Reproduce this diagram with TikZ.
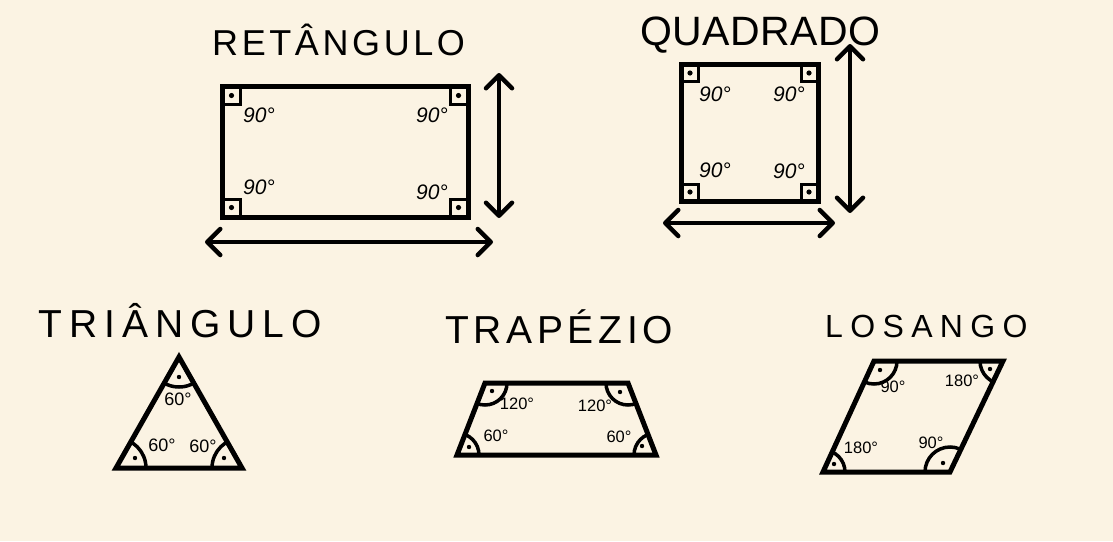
\documentclass[tikz,border=0pt]{standalone}
\usepackage{fontspec}
\setmainfont{Liberation Sans}
\usetikzlibrary{arrows.meta,calc}
\definecolor{bg}{RGB}{251,243,227}
\begin{document}
\begin{tikzpicture}[x=1pt,y=-1pt,
  outline/.style={line width=5pt,line join=miter},
  arcline/.style={line width=3.5pt},
  cbox/.style={line width=3pt},
  dim/.style={line width=4.5pt,line cap=round,{Straight Barb[length=13pt,width=26pt,round]}-{Straight Barb[length=13pt,width=26pt,round]}},
  title/.style={anchor=base west,inner sep=0pt},
  deg/.style={inner sep=0pt}]
\fill[bg] (0,0) rectangle (1113,541);
\useasboundingbox (0,0) rectangle (1113,541);

% titles
\node[title,font=\fontsize{36}{36}\selectfont\addfontfeature{LetterSpace=10}] (tr) at (212,55) {RETÂNGULO};
\node[title,font=\fontsize{41}{41}\selectfont\addfontfeature{LetterSpace=1}] (tq) at (640,45) {QUADRADO};
\node[title,font=\fontsize{39}{39}\selectfont\addfontfeature{LetterSpace=18}] (tt) at (38,337) {TRIÂNGULO};
\node[title,font=\fontsize{39}{39}\selectfont\addfontfeature{LetterSpace=12}] (tp) at (445,343) {TRAPÉZIO};
\node[title,font=\fontsize{32}{32}\selectfont\addfontfeature{LetterSpace=23}] (tl) at (825,337) {LOSANGO};

% rectangle
\coordinate (r1) at (222,86); \coordinate (r2) at (468,86);
\coordinate (r3) at (468,217); \coordinate (r4) at (222,217);
\draw[outline] (r1) rectangle (r3);
\foreach \c/\sx/\sy in {r1/1/1, r2/-1/1, r3/-1/-1, r4/1/-1} {
  \draw[cbox] ($(\c)+(0,18*\sy)$) -| ($(\c)+(18*\sx,0)$);
  \fill ($(\c)+(9.5*\sx,9.5*\sy)$) circle (2.6);
}
\begin{scope}[every node/.style={deg,font=\fontsize{21}{21}\selectfont\itshape}]
\node (ra) at (259,115) {90°};
\node (rb) at (432,115) {90°};
\node (rc) at (259,187) {90°};
\node (rd) at (432,192) {90°};
\end{scope}
\coordinate (rv1) at (499,73); \coordinate (rv2) at (499,218);
\draw[dim] (rv1) -- (rv2);
\coordinate (rh1) at (205,242); \coordinate (rh2) at (493,242);
\draw[dim] (rh1) -- (rh2);

% square
\coordinate (q1) at (681,64); \coordinate (q2) at (818,64);
\coordinate (q3) at (818,201); \coordinate (q4) at (681,201);
\draw[outline] (q1) rectangle (q3);
\foreach \c/\sx/\sy in {q1/1/1, q2/-1/1, q3/-1/-1, q4/1/-1} {
  \draw[cbox] ($(\c)+(0,17*\sy)$) -| ($(\c)+(17*\sx,0)$);
  \fill ($(\c)+(9*\sx,9*\sy)$) circle (2.6);
}
\begin{scope}[every node/.style={deg,font=\fontsize{21}{21}\selectfont\itshape}]
\node (qa) at (715,94) {90°};
\node (qb) at (789,94) {90°};
\node (qc) at (715,170) {90°};
\node (qd) at (789,171) {90°};
\end{scope}
\coordinate (qv1) at (850,44); \coordinate (qv2) at (850,213);
\draw[dim] (qv1) -- (qv2);
\coordinate (qh1) at (663,223); \coordinate (qh2) at (835,223);
\draw[dim] (qh1) -- (qh2);

% triangle
\coordinate (t1) at (179,357); \coordinate (t2) at (242,468); \coordinate (t3) at (116,468);
\begin{scope}
\clip (t1)--(t2)--(t3)--cycle;
\foreach \v in {t1,t2,t3} \draw[arcline] (\v) circle (30);
\end{scope}
\draw[outline] (t1)--(t2)--(t3)--cycle;
\foreach \p in {(179,377),(135,458),(224,458)} \fill \p circle (2.2);
\begin{scope}[every node/.style={deg,font=\fontsize{18}{18}\selectfont}]
\node (ta) at (178,399) {60°};
\node (tb) at (162,445) {60°};
\node (tc) at (203,446) {60°};
\end{scope}

% trapezoid
\coordinate (p1) at (485,383); \coordinate (p2) at (628,383);
\coordinate (p3) at (656,455); \coordinate (p4) at (457,455);
\begin{scope}
\clip (p1)--(p2)--(p3)--(p4)--cycle;
\foreach \v in {p1,p2,p3,p4} \draw[arcline] (\v) circle (22);
\end{scope}
\draw[outline] (p1)--(p2)--(p3)--(p4)--cycle;
\foreach \p in {(492,391),(620,392),(469,447),(642,446)} \fill \p circle (2.2);
\begin{scope}[every node/.style={deg,font=\fontsize{16.5}{16.5}\selectfont}]
\node (pa) at (517,404) {120°};
\node (pb) at (595,406) {120°};
\node (pc) at (496,436) {60°};
\node (pd) at (619,437) {60°};
\end{scope}

% rhombus
\coordinate (l1) at (874,361); \coordinate (l2) at (1003,361);
\coordinate (l3) at (950,472); \coordinate (l4) at (823,472);
\begin{scope}
\clip (l1)--(l2)--(l3)--(l4)--cycle;
\draw[arcline] (l1) circle (23);
\draw[arcline] (l2) circle (23);
\draw[arcline] (l3) circle (25);
\draw[arcline] (l4) circle (22);
\end{scope}
\draw[outline] (l1)--(l2)--(l3)--(l4)--cycle;
\foreach \p in {(880,370),(990,369),(834,464),(943,463)} \fill \p circle (2.2);
\begin{scope}[every node/.style={deg,font=\fontsize{16.5}{16.5}\selectfont}]
\node (la) at (893,387) {90°};
\node (lb) at (962,381) {180°};
\node (lc) at (861,448) {180°};
\node (ld) at (931,443) {90°};
\end{scope}
\end{tikzpicture}
\end{document}
